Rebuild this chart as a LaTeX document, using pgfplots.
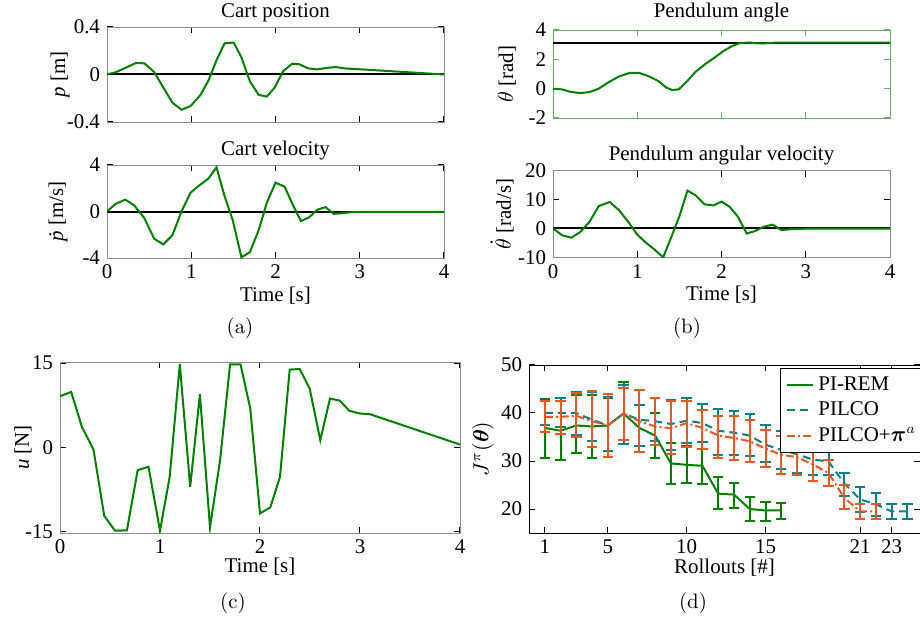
\documentclass[border=0pt]{standalone}
\usepackage{fontspec}
\newfontfamily\tnr{Liberation Serif}
\usepackage{amsmath}
\usepackage{pgfplots}
\pgfplotsset{compat=1.18}
\newcommand{\ff}{\tnr\fontsize{10.5}{12.6}\selectfont}
\newcommand{\capf}{\fontsize{10.5}{12.6}\selectfont}
\definecolor{mgreen}{RGB}{0,128,0}
\definecolor{mteal}{RGB}{0,128,138}
\definecolor{morange}{RGB}{232,88,32}
\definecolor{fgreen}{RGB}{100,175,100}
\pgfplotsset{
  base/.style={scale only axis, anchor=north west,
    axis line style={gray!90}, tick style={black, line width=0.5bp},
    major tick length=3bp, tick align=inside,
    ticklabel style={font=\ff}, label style={font=\ff},
    xmin=0, xmax=4, xtick={0,1,2,3,4},
    every axis title/.style={font=\ff, at={(0.5,1)}, anchor=base, yshift=4.5bp},
    xlabel style={at={(0.5,0)}, anchor=base, yshift=-21.5bp},
    every axis plot/.append style={line width=1bp},
  },
  ebar/.style={error bars/.cd, y dir=both, y explicit,
    error bar style={solid, line width=1bp},
    error mark options={solid, rotate=90, mark size=2.6bp, line width=1bp}},
}
\begin{document}
\begin{tikzpicture}
\path[use as bounding box] (0,0) rectangle (460bp,309.5bp);
% (a) top
\begin{axis}[base, at={(53.5bp,296bp)}, width=168.5bp, height=47.5bp,
  ymin=-0.4, ymax=0.4, ytick={-0.4,0,0.4}, yticklabels={-0.4,0,0.4}, xticklabels={},
  title={Cart position}, ylabel={\textit{p} [m]},
  ylabel style={at={(-0.139,0.5)}, anchor=center}]
\addplot[black] coordinates {(0,0) (4,0)};
\addplot[mgreen] coordinates {(0,0) (0.108,0.020) (0.345,0.097) (0.444,0.094) (0.560,0.020) (0.776,-0.237) (0.884,-0.297) (0.991,-0.266) (1.108,-0.174) (1.204,-0.051) (1.300,0.120) (1.396,0.263) (1.504,0.269) (1.596,0.143) (1.696,-0.057) (1.800,-0.171) (1.896,-0.186) (1.992,-0.109) (2.089,0.026) (2.198,0.091) (2.283,0.086) (2.391,0.051) (2.496,0.043) (2.593,0.054) (2.709,0.063) (2.826,0.051) (3.096,0.040) (3.481,0.023) (4,0)};
\end{axis}
% (a) bottom
\begin{axis}[base, at={(53.5bp,227bp)}, width=168.5bp, height=46.5bp,
  ymin=-4, ymax=4, ytick={-4,0,4}, yticklabels={-4,0,4}, xticklabels={0,1,2,3,4},
  title={Cart velocity}, xlabel={Time [s]}, ylabel={\textit{\.{p}} [m/s]},
  ylabel style={at={(-0.145,0.5)}, anchor=center}]
\addplot[black] coordinates {(0,0) (4,0)};
\addplot[mgreen] coordinates {(0,0) (0.099,0.64) (0.216,1.02) (0.323,0.53) (0.444,-0.58) (0.560,-2.34) (0.668,-2.83) (0.776,-2.04) (0.884,0) (0.991,1.61) (1.088,2.20) (1.204,2.83) (1.300,3.80) (1.396,1.31) (1.492,-0.73) (1.596,-3.94) (1.696,-3.50) (1.800,-1.61) (1.896,0.73) (2.0,2.48) (2.109,2.13) (2.205,0.58) (2.302,-0.82) (2.399,-0.50) (2.496,0.15) (2.593,0.38) (2.690,-0.20) (2.787,-0.15) (2.903,-0.06) (3.096,-0.03) (4,-0.03)};
\end{axis}
\node[font=\capf] at (120bp,145.5bp) {(a)};
% (b) top
\begin{axis}[base, at={(276.5bp,294.5bp)}, width=168.5bp, height=44bp,
  axis line style={fgreen}, tick style={fgreen},
  ymin=-2, ymax=4, ytick={-2,0,2,4}, yticklabels={-2,0,2,4}, xticklabels={},
  title={Pendulum angle}, title style={yshift=1.5bp}, ylabel={$\theta$ [rad]},
  ylabel style={at={(-0.137,0.5)}, anchor=center}]
\addplot[black] coordinates {(0,3.1416) (4,3.1416)};
\addplot[mgreen] coordinates {(0,0) (0.109,-0.05) (0.217,-0.23) (0.326,-0.30) (0.435,-0.23) (0.543,0) (0.652,0.41) (0.783,0.83) (0.913,1.08) (1.019,1.08) (1.135,0.85) (1.25,0.52) (1.346,0.07) (1.415,-0.09) (1.492,-0.05) (1.596,0.53) (1.692,1.15) (1.808,1.68) (1.923,2.14) (2.019,2.55) (2.115,2.87) (2.212,3.10) (2.327,3.15) (2.442,3.08) (2.538,3.10) (2.654,3.14) (2.885,3.1416) (4,3.1416)};
\end{axis}
% (b) bottom
\begin{axis}[base, at={(276.5bp,224.15bp)}, width=168.5bp, height=43.3bp,
  ymin=-10, ymax=20, ytick={-10,0,10,20}, yticklabels={-10,0,10,20}, xticklabels={0,1,2,3,4},
  title={Pendulum angular velocity}, title style={yshift=0.5bp}, xlabel={Time [s]}, ylabel={$\dot{\theta}$ [rad/s]},
  ylabel style={at={(-0.151,0.5)}, anchor=center}]
\addplot[black] coordinates {(0,0) (4,0)};
\addplot[mgreen] coordinates {(0,0) (0.109,-2.38) (0.217,-3.21) (0.326,-1.19) (0.435,2.38) (0.543,7.74) (0.674,9.17) (0.783,6.31) (0.891,2.38) (1.0,-2.14) (1.096,-4.76) (1.192,-7.0) (1.308,-10.0) (1.404,-2.98) (1.5,4.17) (1.596,13.1) (1.692,11.5) (1.8,8.33) (1.904,7.98) (2.0,9.29) (2.096,7.5) (2.192,4.17) (2.3,-1.79) (2.404,-0.83) (2.5,0.6) (2.608,1.31) (2.712,-0.6) (2.827,-0.24) (3.0,-0.1) (4,-0.1)};
\end{axis}
\node[font=\capf] at (343.5bp,145.5bp) {(b)};
% (c)
\begin{axis}[base, at={(30bp,128.5bp)}, width=200bp, height=85.5bp,
  ymin=-15.2, ymax=15.2, ytick={-15,0,15}, yticklabels={-15,0,15}, xticklabels={0,1,2,3,4},
  xlabel={Time [s]}, xlabel style={yshift=1.5bp}, ylabel={\textit{u} [N]},
  ylabel style={at={(-0.0925,0.5)}, anchor=center}]
\addplot[mgreen] coordinates {(0,9.11) (0.112,9.88) (0.219,3.67) (0.335,-0.36) (0.442,-12.13) (0.55,-14.79) (0.669,-14.73) (0.777,-4.02) (0.885,-3.43) (1.0,-14.79) (1.097,-5.21) (1.198,14.79) (1.302,-6.98) (1.399,9.47) (1.5,-14.2) (1.601,-2.25) (1.701,14.79) (1.805,14.79) (1.903,6.92) (2.0,-11.72) (2.103,-10.65) (2.2,-5.21) (2.297,13.85) (2.397,13.96) (2.497,10.47) (2.603,1.30) (2.7,8.70) (2.797,8.34) (2.894,6.51) (3.0,6.04) (3.1,5.92) (4.0,0.53)};
\end{axis}
\node[font=\capf] at (116.5bp,8bp) {(c)};
% (d)
\begin{axis}[base, at={(264.5bp,127bp)}, width=195.5bp, height=84bp,
  axis line style={black}, xmin=0, xmax=24.8, ymin=15, ymax=50,
  xtick={1,5,10,15,21,23}, xticklabels={1,5,10,15,21,23},
  ytick={20,30,40,50}, yticklabels={20,30,40,50},
  xlabel={Rollouts [\#]}, xlabel style={yshift=1.5bp},
  ylabel={$J^{\pi}(\boldsymbol{\theta})$},
  ylabel style={at={(-0.118,0.5)}, anchor=center},
  legend style={font=\ff, at={(0.642,0.982)}, anchor=north west, draw=black, fill=white,
    inner xsep=3bp, inner ysep=2bp, row sep=0.3bp},
  legend cell align=left,
  legend image code/.code={\draw[#1] (0bp,0bp) -- (13bp,0bp);}]
\addplot[mgreen, ebar] coordinates {
(1,36.9) += (0,6.1) -= (0,6.3)
(2,36.3) += (0,6.3) -= (0,6.0)
(3,37.4) += (0,6.3) -= (0,5.8)
(4,37.2) += (0,6.5) -= (0,6.5)
(5,37.4) += (0,5.7) -= (0,5.3)
(6,39.9) += (0,6.5) -= (0,6.3)
(7,36.9) += (0,4.8) -= (0,5.0)
(8,35.3) += (0,4.7) -= (0,4.7)
(9,29.5) += (0,4.3) -= (0,4.3)
(10,29.2) += (0,4.0) -= (0,3.8)
(11,29.0) += (0,3.6) -= (0,3.8)
(12,23.2) += (0,3.4) -= (0,3.2)
(13,23.0) += (0,2.4) -= (0,2.7)
(14,20.0) += (0,2.6) -= (0,2.6)
(15,19.7) += (0,1.7) -= (0,2.1)
(16,19.7) += (0,1.6) -= (0,1.8)};
\addlegendentry{PI-REM}
\addplot[mteal, dash pattern=on 4bp off 2.5bp, ebar] coordinates {
(1,40.0) += (0,2.4) -= (0,2.4)
(2,40.0) += (0,3.2) -= (0,3.0)
(3,40.0) += (0,4.3) -= (0,4.5)
(4,38.6) += (0,5.8) -= (0,4.4)
(5,37.4) += (0,5.9) -= (0,5.4)
(6,39.9) += (0,6.0) -= (0,6.3)
(7,38.6) += (0,3.1) -= (0,5.5)
(8,38.3) += (0,4.8) -= (0,4.2)
(9,37.7) += (0,5.1) -= (0,5.4)
(10,38.4) += (0,4.7) -= (0,4.6)
(11,37.9) += (0,4.0) -= (0,4.0)
(12,36.3) += (0,4.6) -= (0,5.1)
(13,35.9) += (0,4.6) -= (0,4.7)
(14,35.3) += (0,4.4) -= (0,4.3)
(15,33.4) += (0,4.2) -= (0,3.6)
(16,32.3) += (0,3.9) -= (0,4.0)
(17,31.4) += (0,4.2) -= (0,3.9)
(18,30.3) += (0,3.5) -= (0,3.3)
(19,29.9) += (0,2.8) -= (0,2.9)
(20,25.3) += (0,2.3) -= (0,2.5)
(21,22.0) += (0,2.6) -= (0,2.7)
(22,21.0) += (0,2.3) -= (0,2.4)
(23,19.5) += (0,1.5) -= (0,1.5)
(24,19.5) += (0,1.5) -= (0,1.5)};
\addlegendentry{PILCO}
\addplot[morange, dash pattern=on 4bp off 1.5bp on 1bp off 1.5bp, ebar] coordinates {
(1,39.2) += (0,3.2) -= (0,3.2)
(2,39.2) += (0,3.2) -= (0,3.5)
(3,39.4) += (0,4.7) -= (0,4.4)
(4,38.3) += (0,6.3) -= (0,5.3)
(5,37.4) += (0,6.5) -= (0,6.6)
(6,39.9) += (0,5.4) -= (0,5.6)
(7,38.3) += (0,6.5) -= (0,6.4)
(8,37.2) += (0,5.9) -= (0,3.8)
(9,36.8) += (0,5.8) -= (0,5.4)
(10,37.9) += (0,4.7) -= (0,4.9)
(11,36.9) += (0,3.8) -= (0,4.3)
(12,35.3) += (0,4.1) -= (0,4.6)
(13,34.8) += (0,4.5) -= (0,4.6)
(14,34.1) += (0,4.4) -= (0,4.4)
(15,32.6) += (0,3.8) -= (0,3.8)
(16,31.3) += (0,4.0) -= (0,4.1)
(17,30.8) += (0,3.6) -= (0,3.8)
(18,29.3) += (0,3.3) -= (0,3.5)
(19,27.5) += (0,2.7) -= (0,2.7)
(20,22.3) += (0,2.7) -= (0,2.3)
(21,19.5) += (0,1.5) -= (0,1.5)
(22,19.5) += (0,1.5) -= (0,1.5)};
\addlegendentry{PILCO+$\boldsymbol{\pi}^a$}
\end{axis}
\node[font=\capf] at (346.5bp,8bp) {(d)};
\end{tikzpicture}
\end{document}
